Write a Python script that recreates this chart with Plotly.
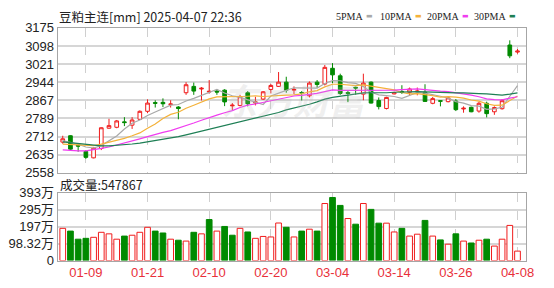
import plotly.graph_objects as go

# ---------------- data ----------------
dates = ["01-06","01-07","01-08","01-09","01-10","01-13","01-14","01-15","01-16","01-17",
         "01-20","01-21","01-22","01-23","01-24","01-27","02-05","02-06","02-07","02-10",
         "02-11","02-12","02-13","02-14","02-17","02-18","02-19","02-20","02-21","02-24",
         "02-25","02-26","02-27","02-28","03-03","03-04","03-05","03-06","03-07","03-10",
         "03-11","03-12","03-13","03-14","03-17","03-18","03-19","03-20","03-21","03-24",
         "03-25","03-26","03-27","03-28","03-31","04-01","04-02","04-03","04-07","04-08"]

open_ = [2689,2716,2676,2649,2622,2662,2748,2752,2775,2761,
         2786,2820,2857,2858,2849,2838,2899,2926,2915,2902,
         2906,2910,2843,2845,2899,2855,2872,2913,2926,2944,
         2910,2900,2886,2944,2936,3003,2971,2900,2922,2893,
         2944,2866,2832,2894,2904,2901,2904,2901,2854,2865,
         2861,2864,2830,2837,2821,2854,2818,2831,3102,3072]
high = [2716,2718,2680,2655,2666,2752,2788,2783,2795,2795,
        2824,2871,2867,2875,2867,2842,2944,2942,2923,2953,
        2914,2914,2855,2890,2906,2882,2906,2936,2987,2967,
        2926,2906,2947,2953,3017,3025,2980,2906,2925,2980,
        2947,2879,2882,2903,2931,2921,2921,2935,2881,2866,
        2881,2872,2841,2840,2861,2861,2841,2872,3122,3085]
low = [2682,2655,2648,2618,2620,2655,2746,2748,2757,2745,
       2783,2812,2836,2838,2836,2786,2890,2890,2866,2895,
       2890,2842,2825,2841,2841,2845,2868,2896,2924,2899,
       2893,2866,2879,2920,2930,2940,2890,2859,2890,2867,
       2853,2828,2828,2892,2894,2888,2888,2860,2850,2841,
       2858,2821,2814,2816,2814,2794,2805,2827,3046,3065]
close = [2703,2659,2672,2624,2663,2750,2759,2779,2772,2783,
         2820,2855,2854,2852,2851,2832,2933,2906,2918,2905,
         2902,2860,2846,2882,2852,2860,2903,2930,2944,2910,
         2913,2898,2940,2934,3007,2975,2896,2896,2919,2940,
         2855,2840,2879,2900,2901,2915,2906,2862,2874,2863,
         2877,2827,2833,2818,2854,2810,2836,2865,3056,3076]

ma5 = [2695,2688,2680,2668,2664,2674,2694,2715,2745,2769,
       2783,2802,2817,2833,2846,2849,2864,2875,2888,2899,
       2913,2898,2886,2879,2868,2860,2849,2885,2898,2909,
       2920,2919,2921,2919,2938,2951,2950,2942,2939,2925,
       2901,2890,2887,2883,2875,2887,2900,2897,2892,2884,
       2876,2861,2855,2844,2842,2828,2830,2837,2884,2929]
ma10 = [2680,2678,2676,2674,2674,2680,2688,2696,2705,2716,
        2728,2748,2766,2789,2807,2816,2833,2846,2860,2873,
        2881,2881,2880,2883,2884,2886,2883,2886,2888,2889,
        2890,2894,2903,2908,2924,2935,2935,2931,2929,2932,
        2926,2920,2914,2911,2900,2894,2895,2892,2887,2880,
        2882,2880,2876,2868,2863,2852,2845,2846,2864,2885]
ma20 = [2656,2653,2652,2652,2656,2662,2668,2676,2685,2694,
        2703,2712,2722,2730,2738,2748,2758,2770,2782,2794,
        2804,2814,2823,2836,2846,2851,2858,2866,2874,2881,
        2885,2888,2892,2896,2904,2911,2909,2909,2909,2910,
        2908,2907,2909,2910,2912,2915,2915,2912,2908,2906,
        2904,2900,2895,2889,2882,2873,2870,2869,2876,2882]
ma30 = [2690,2686,2682,2678,2675,2673,2673,2675,2678,2681,
        2685,2690,2695,2700,2706,2712,2720,2728,2735,2742,
        2750,2758,2766,2774,2782,2790,2798,2806,2815,2826,
        2833,2841,2850,2860,2872,2879,2884,2888,2893,2898,
        2899,2898,2899,2901,2903,2905,2904,2903,2901,2900,
        2899,2898,2898,2895,2895,2894,2891,2889,2893,2898]

# volume in 万 (10k lots)
volume = [187,171,124,129,135,164,155,124,142,147,
          164,193,171,160,124,118,113,164,155,238,
          171,198,147,187,166,129,140,137,218,193,
          137,171,182,171,331,366,320,244,211,331,
          297,217,217,166,187,142,153,233,142,120,
          95,155,113,102,118,124,84,124,204,54.7867]
vol_dir = ["u","d","d","d","u","u","u","u","d","u",
           "u","u","d","d","u","d","u","d","u","d",
           "u","d","d","u","d","u","u","u","u","d",
           "u","d","u","d","u","d","d","u","d","u",
           "d","d","u","u","d","u","u","d","u","d",
           "u","d","u","d","u","d","u","u","u","u"]

x_tick_dates = ["01-09","01-21","02-10","02-20","03-04","03-14","03-26","04-08"]
price_ticks = [2558, 2635.125, 2712.25, 2789.375, 2866.5, 2943.625, 3020.75, 3097.875, 3175]
price_tick_text = ["2558","2635","2712","2789","2867","2944","3021","3098","3175"]
vol_ticks = [0, 98.32, 196.64, 294.96, 393.28]
vol_tick_text = ["0","98.32万","197万","295万","393万"]
last_volume_text = "547867"
title_text = "豆粕主连[mm] 2025-04-07 22:36"

# ---------------- styling ----------------
RED = "#f01c1c"
GREEN = "#008a00"
MA_COLORS = {"5PMA": "#a9a9a9", "10PMA": "#f4b23a", "20PMA": "#f03cf0", "30PMA": "#1e7f55"}
W, H = 554, 288
x = list(range(len(dates)))
xr = [-0.66, 60.14]
xdom = [58.5 / W, 534 / W]

fig = go.Figure()

for name, vals in zip(["5PMA", "10PMA", "20PMA", "30PMA"], [ma5, ma10, ma20, ma30]):
    fig.add_trace(go.Scatter(x=x, y=vals, mode="lines", name=name,
                             line=dict(color=MA_COLORS[name], width=1.2),
                             xaxis="x", yaxis="y", showlegend=False, hoverinfo="skip"))

fig.add_trace(go.Candlestick(
    x=x, open=open_, high=high, low=low, close=close,
    increasing=dict(line=dict(color=RED, width=1), fillcolor="white"),
    decreasing=dict(line=dict(color=GREEN, width=1), fillcolor=GREEN),
    whiskerwidth=0, xaxis="x", yaxis="y", showlegend=False))

fig.add_trace(go.Bar(
    x=x, y=volume, width=0.74,
    marker=dict(color=["white" if d == "u" else GREEN for d in vol_dir],
                line=dict(color=[RED if d == "u" else GREEN for d in vol_dir], width=1)),
    xaxis="x2", yaxis="y2", showlegend=False))

tick_idx = [dates.index(d) for d in x_tick_dates]
font_main = "Liberation Sans, Arial, Noto Sans CJK SC, sans-serif"

common_x = dict(domain=xdom, range=xr, tickvals=tick_idx, showgrid=True,
                gridcolor="#cfcfcf", griddash="dash", gridwidth=1, zeroline=False,
                showline=True, mirror=True, linecolor="#a6a6a6", linewidth=1, ticks="")
fig.update_layout(
    width=W, height=H,
    margin=dict(l=0, r=0, t=0, b=0),
    paper_bgcolor="white", plot_bgcolor="white",
    font=dict(family=font_main, size=13, color="#222"),
    boxgap=0.32,
    xaxis=dict(**common_x, anchor="y", showticklabels=False,
               rangeslider=dict(visible=False)),
    yaxis=dict(domain=[(H - 175) / H, (H - 22) / H], range=[2558, 3175],
               tickvals=price_ticks, ticktext=price_tick_text,
               showgrid=True, gridcolor="#d6d6d6", gridwidth=1.5, zeroline=False,
               showline=True, mirror=True, linecolor="#a6a6a6", ticks="",
               tickfont=dict(size=13, color="#222")),
    xaxis2=dict(**common_x, anchor="y2", ticktext=x_tick_dates,
                tickfont=dict(size=13, color="#e8303a")),
    yaxis2=dict(domain=[(H - 267.5) / H, (H - 196) / H], range=[0, 393.28],
                tickvals=vol_ticks, ticktext=vol_tick_text,
                showgrid=True, gridcolor="#d6d6d6", gridwidth=1.5, zeroline=False,
                showline=True, mirror=True, linecolor="#a6a6a6", ticks="",
                tickfont=dict(size=13, color="#222")),
    hovermode=False,
)

# watermark
fig.add_annotation(text="<b><i>东方财富</i></b>", xref="paper", yref="paper",
                   x=300 / W, y=(H - 97) / H, showarrow=False,
                   font=dict(size=36, color="rgba(185,185,185,0.22)",
                             family="Noto Sans CJK SC"))

# title
fig.add_annotation(text=title_text, xref="paper", yref="paper",
                   x=58 / W, y=(H - 10) / H, xanchor="left", yanchor="middle",
                   showarrow=False, font=dict(size=12.5, color="#222",
                                              family="Noto Sans CJK SC, Liberation Sans"))

# legend: label text, then a small colored dash
legend_pos = {"5PMA": (340, 375), "10PMA": (385, 425), "20PMA": (432, 472), "30PMA": (480, 520)}
for name, (tx, dx) in legend_pos.items():
    fig.add_annotation(
        text=name, xref="paper", yref="paper", x=tx / W, y=(H - 10) / H,
        xanchor="left", yanchor="middle", showarrow=False, borderpad=0,
        font=dict(size=10, color="#222", family="Liberation Serif, DejaVu Serif"))
    fig.add_annotation(
        text="▬", xref="paper", yref="paper", x=dx / W, y=(H - 10) / H,
        xanchor="center", yanchor="middle", showarrow=False, borderpad=0,
        font=dict(size=7, color=MA_COLORS[name], family="DejaVu Sans"))

# volume label
fig.add_annotation(text=f"成交量:{last_volume_text}", xref="paper", yref="paper",
                   x=59 / W, y=(H - 187) / H, xanchor="left", yanchor="middle",
                   showarrow=False, font=dict(size=12.5, color="#222",
                                              family="Noto Sans CJK SC, Liberation Sans"))

fig.write_html("out.html")
